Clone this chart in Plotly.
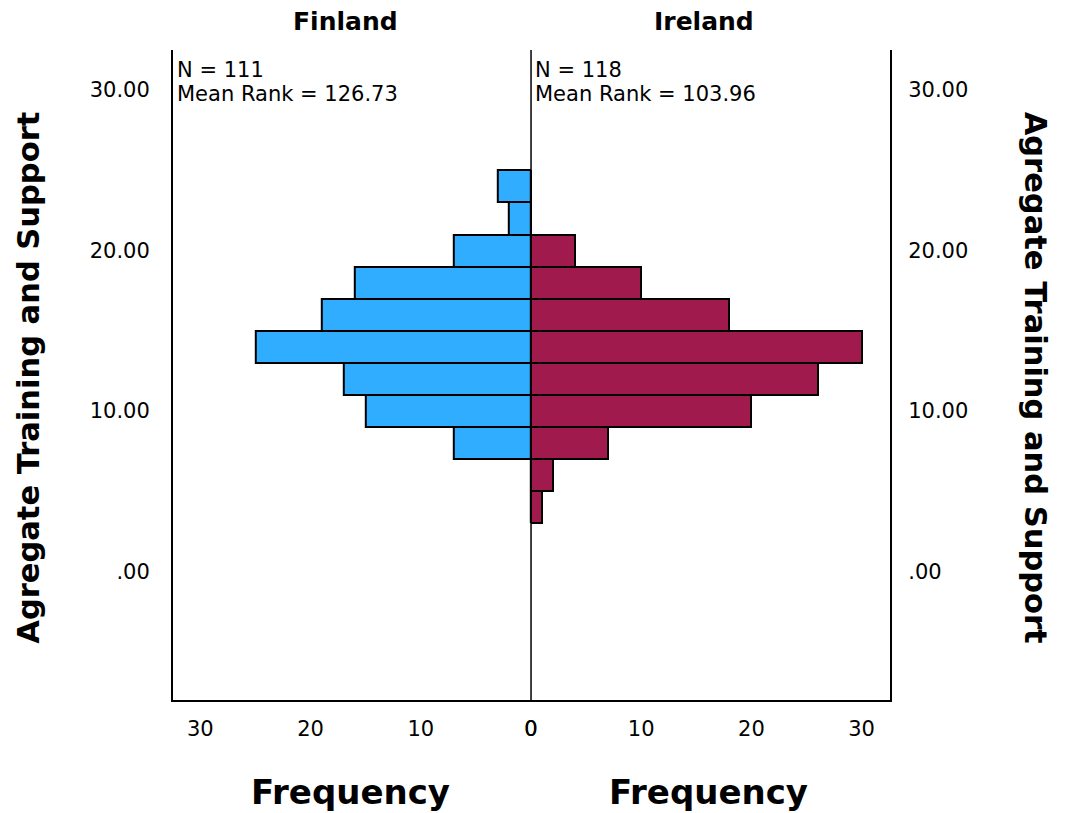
import plotly.graph_objects as go

# Histogram bins (midpoints, width 2) and counts per country
bin_mid = [24, 22, 20, 18, 16, 14, 12, 10, 8, 6, 4]
finland_counts = [3, 2, 7, 16, 19, 25, 17, 15, 7, 0, 0]
ireland_counts = [0, 0, 4, 10, 18, 30, 26, 20, 7, 2, 1]

y_tickvals = [0, 10, 20, 30]
y_ticktext = [".00", "10.00", "20.00", "30.00"]
x_tickvals = [0, 10, 20, 30]

groups = ["Finland", "Ireland"]
n_vals = [111, 118]
mean_ranks = [126.73, 103.96]

W, H = 1067, 813
FONT = "DejaVu Sans, sans-serif"
BLUE = "#31adff"
MAROON = "#a01a4e"

# panel edges in pixels
left_px, mid_px, right_px = 168, 531, 895
top_px, bot_px = 50, 700
xd_left = [left_px / W, mid_px / W]
xd_right = [mid_px / W, right_px / W]
yd = [(H - bot_px) / H, (H - top_px) / H]


def px_x(p):
    return p / W


def px_y(p):
    return 1 - p / H


fig = go.Figure()
fig.add_trace(go.Bar(
    y=bin_mid, x=finland_counts, orientation="h", width=2,
    marker=dict(color=BLUE, line=dict(color="black", width=2)),
    xaxis="x", yaxis="y", showlegend=False,
))
fig.add_trace(go.Bar(
    y=bin_mid, x=ireland_counts, orientation="h", width=2,
    marker=dict(color=MAROON, line=dict(color="black", width=2)),
    xaxis="x2", yaxis="y2", showlegend=False,
))

tick_font = dict(family=FONT, size=21, color="black")
fig.update_layout(
    width=W, height=H,
    margin=dict(l=0, r=0, t=0, b=0),
    paper_bgcolor="white", plot_bgcolor="white",
    bargap=0,
    xaxis=dict(domain=xd_left, range=[32.5, 0], tickvals=x_tickvals,
               showgrid=False, zeroline=False, showline=True,
               linecolor="black", linewidth=1.5, ticks="outside",
               ticklen=9, tickcolor="rgba(0,0,0,0)", tickfont=tick_font,
               anchor="y"),
    xaxis2=dict(domain=xd_right, range=[0, 32.6], tickvals=x_tickvals,
                showgrid=False, zeroline=False, showline=True,
                linecolor="black", linewidth=1.5, ticks="outside",
                ticklen=9, tickcolor="rgba(0,0,0,0)", tickfont=tick_font,
                anchor="y2"),
    yaxis=dict(domain=yd, range=[-8, 32.5], tickvals=y_tickvals,
               ticktext=y_ticktext, showgrid=False, zeroline=False,
               showline=True, linecolor="black", linewidth=1.5,
               ticks="outside", ticklen=17, tickcolor="rgba(0,0,0,0)",
               tickfont=tick_font, anchor="x"),
    yaxis2=dict(domain=yd, range=[-8, 32.5], tickvals=y_tickvals,
                ticktext=y_ticktext, showgrid=False, zeroline=False,
                showline=True, linecolor="black", linewidth=1.5,
                ticks="outside", ticklen=12, tickcolor="rgba(0,0,0,0)",
                tickfont=tick_font, side="right", anchor="x2"),
)

# centre divider at zero frequency
fig.add_shape(type="line", xref="paper", yref="paper",
              x0=px_x(mid_px), x1=px_x(mid_px), y0=yd[0], y1=yd[1],
              line=dict(color="black", width=1.5))

ann = []
title_x = [343, 706]
freq_x = [348, 711]
for i, g in enumerate(groups):
    ann.append(dict(text=f"<b>{g}</b>", x=px_x(title_x[i]), y=px_y(22),
                    xref="paper", yref="paper", showarrow=False,
                    xanchor="center", yanchor="middle",
                    font=dict(family=FONT, size=25, color="black")))
    ann.append(dict(text="<b>Frequency</b>", x=px_x(freq_x[i]), y=px_y(792),
                    xref="paper", yref="paper", showarrow=False,
                    xanchor="center", yanchor="middle",
                    font=dict(family=FONT, size=34, color="black")))
    x0 = (left_px if i == 0 else mid_px) + 2
    for line, yc in ((f"N = {n_vals[i]}", 70),
                     (f"Mean Rank = {mean_ranks[i]:.2f}", 94)):
        ann.append(dict(text=line, x=px_x(x0), y=px_y(yc),
                        xref="paper", yref="paper", xanchor="left",
                        yanchor="middle", showarrow=False,
                        font=dict(family=FONT, size=21, color="black")))

for xc, ang in ((22, -90), (1042, 90)):
    ann.append(dict(text="<b>Agregate Training and Support</b>", x=px_x(xc),
                    y=px_y(378), xref="paper", yref="paper", showarrow=False,
                    xanchor="center", yanchor="middle", textangle=ang,
                    font=dict(family=FONT, size=30.5, color="black")))
fig.update_layout(annotations=ann)

fig.write_html("out.html")
